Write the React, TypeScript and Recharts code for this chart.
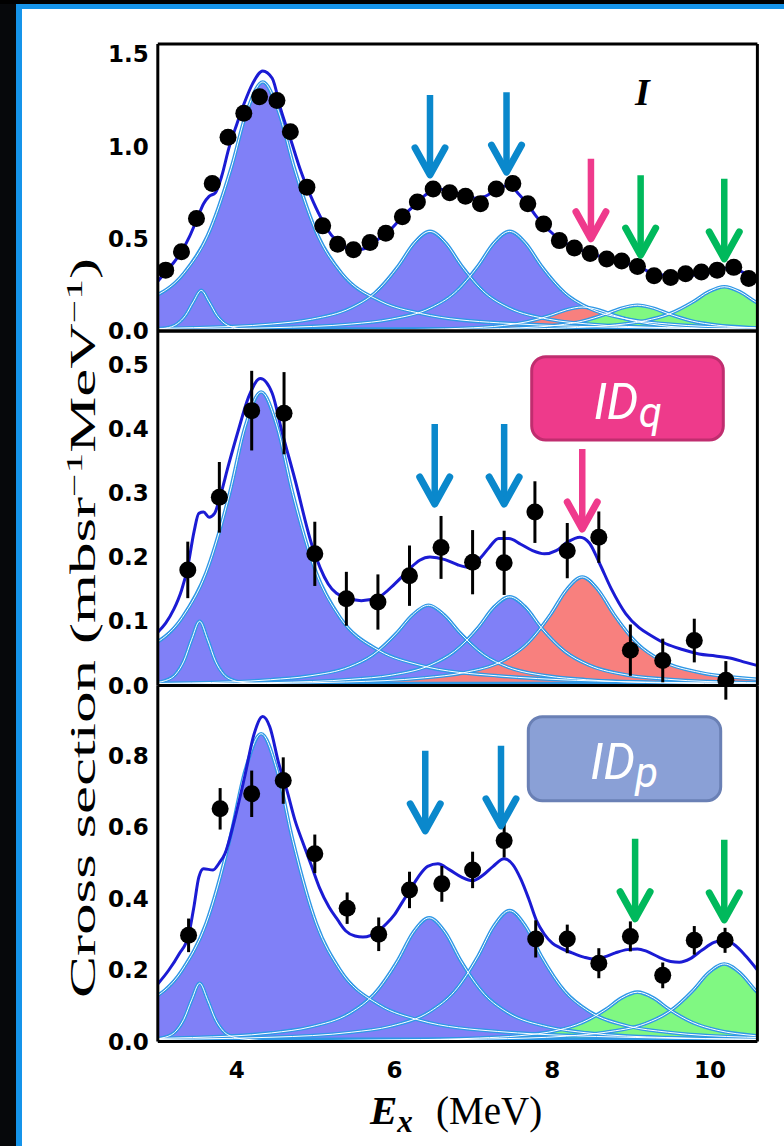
import React from 'react';
import { ComposedChart, Area, Line, Scatter, XAxis, YAxis, ErrorBar } from 'recharts';

const W = 784;
const H = 1146;
const PLOT_L = 157.8;
const PLOT_R = 757.4;

const X_DOMAIN: [number, number] = [3, 10.6];
const X_MAJOR = [4, 6, 8, 10];
const X_MINOR = [3.2, 3.6, 4.4, 4.8, 5.2, 5.6, 6.4, 6.8, 7.2, 7.6, 8.4, 8.8, 9.2, 9.6, 10.4];

// sampling offsets (MeV from each component centroid)
const OFFSETS = [-7, -5, -3, -2, -1.5, -1, -0.7, -0.4, -0.2, 0, 0.2, 0.4, 0.7, 1, 1.5, 2, 3, 5, 7];
const NARROW_OFFSETS = [-1.5, -0.9, -0.6, -0.45, -0.3, -0.2, -0.1, 0, 0.1, 0.2, 0.3, 0.45, 0.6, 0.9, 1.5];

// flat continuum strip along the bottom of each panel
const BG_X = [3, 10.6];

// ---------- panel I ----------
const I_CENTERS = [3.55, 4.33, 6.45, 7.46, 8.38, 9.08, 10.18];
const I_SMALL = [0.001, 0.003, 0.008, 0.015, 0.04, 0.084, 0.158, 0.22, 0.158, 0.084, 0.04, 0.015, 0.008, 0.003, 0.001];
const I_BIG = [0.008, 0.016, 0.044, 0.095, 0.16, 0.313, 0.516, 0.883, 1.192, 1.35, 1.192, 0.883, 0.516, 0.313, 0.16, 0.095, 0.044, 0.016, 0.008];
const I_P6 = [0.003, 0.006, 0.018, 0.038, 0.064, 0.125, 0.206, 0.353, 0.477, 0.54, 0.477, 0.353, 0.206, 0.125, 0.064, 0.038, 0.018, 0.006, 0.003];
const I_P7 = [0.003, 0.006, 0.018, 0.038, 0.064, 0.125, 0.206, 0.353, 0.477, 0.54, 0.477, 0.353, 0.206, 0.125, 0.064, 0.038, 0.018, 0.006, 0.003];
const I_RED = [0.001, 0.002, 0.004, 0.009, 0.015, 0.03, 0.05, 0.085, 0.115, 0.13, 0.115, 0.085, 0.05, 0.03, 0.015, 0.009, 0.004, 0.002, 0.001];
const I_G1 = [0.001, 0.002, 0.005, 0.01, 0.017, 0.032, 0.053, 0.092, 0.124, 0.14, 0.124, 0.092, 0.053, 0.032, 0.017, 0.01, 0.005, 0.002, 0.001];
const I_G2 = [0.001, 0.003, 0.008, 0.017, 0.028, 0.056, 0.092, 0.157, 0.212, 0.24, 0.212, 0.157, 0.092, 0.056, 0.028, 0.017, 0.008, 0.003, 0.001];
const I_BG = [0.02, 0.02];
const I_TOTAL_X = [3.0, 3.1, 3.2, 3.3, 3.4, 3.5, 3.58, 3.65, 3.73, 3.81, 3.9, 4.0, 4.1, 4.2, 4.33, 4.45, 4.56, 4.69, 4.81, 4.94, 5.06, 5.2, 5.35, 5.5, 5.65, 5.8, 5.95, 6.1, 6.25, 6.4, 6.55, 6.7, 6.85, 7.0, 7.15, 7.3, 7.45, 7.58, 7.7, 7.8, 7.9, 8.0, 8.1, 8.2, 8.35, 8.5, 8.7, 8.9, 9.08, 9.3, 9.5, 9.7, 9.9, 10.1, 10.2, 10.35, 10.5, 10.6];
const I_TOTAL_Y = [0.27, 0.32, 0.37, 0.43, 0.51, 0.61, 0.69, 0.73, 0.75, 0.84, 0.99, 1.12, 1.24, 1.34, 1.41, 1.37, 1.2, 1.03, 0.87, 0.73, 0.62, 0.52, 0.46, 0.44, 0.45, 0.5, 0.55, 0.62, 0.68, 0.74, 0.77, 0.76, 0.74, 0.72, 0.73, 0.77, 0.79, 0.74, 0.68, 0.62, 0.57, 0.53, 0.49, 0.47, 0.44, 0.42, 0.39, 0.37, 0.35, 0.31, 0.3, 0.3, 0.31, 0.33, 0.34, 0.33, 0.3, 0.28];
const I_PTS_X = [3.1, 3.3, 3.49, 3.69, 3.89, 4.09, 4.29, 4.51, 4.68, 4.89, 5.09, 5.28, 5.48, 5.69, 5.89, 6.1, 6.29, 6.49, 6.7, 6.9, 7.09, 7.29, 7.5, 7.69, 7.89, 8.09, 8.28, 8.48, 8.69, 8.88, 9.08, 9.29, 9.5, 9.69, 9.89, 10.09, 10.3, 10.49];
const I_PTS_Y = [0.33, 0.43, 0.61, 0.8, 1.05, 1.18, 1.27, 1.25, 1.08, 0.78, 0.57, 0.47, 0.44, 0.48, 0.53, 0.62, 0.7, 0.77, 0.75, 0.73, 0.69, 0.77, 0.8, 0.69, 0.58, 0.49, 0.45, 0.42, 0.39, 0.38, 0.35, 0.3, 0.29, 0.31, 0.32, 0.33, 0.345, 0.285];
const I_ARROW_X = [6.45, 7.42, 8.49, 9.12, 10.18];
const I_ARROW_Y = [0.83, 0.845, 0.484, 0.395, 0.375];
const I_ARROW_C = ['blue', 'blue', 'pink', 'green', 'green'];

// ---------- panel IDq ----------
const Q_CENTERS = [3.53, 4.31, 6.43, 7.46, 8.38];
const Q_SMALL = [0.001, 0.002, 0.004, 0.007, 0.018, 0.038, 0.072, 0.1, 0.072, 0.038, 0.018, 0.007, 0.004, 0.002, 0.001];
const Q_BIG = [0.003, 0.005, 0.015, 0.032, 0.054, 0.106, 0.175, 0.299, 0.404, 0.457, 0.404, 0.299, 0.175, 0.106, 0.054, 0.032, 0.015, 0.005, 0.003];
const Q_P6 = [0.001, 0.0015, 0.004, 0.009, 0.015, 0.029, 0.048, 0.082, 0.11, 0.125, 0.11, 0.082, 0.048, 0.029, 0.015, 0.009, 0.004, 0.0015, 0.001];
const Q_P7 = [0.001, 0.0017, 0.0045, 0.0097, 0.016, 0.032, 0.053, 0.09, 0.122, 0.138, 0.122, 0.09, 0.053, 0.032, 0.016, 0.0097, 0.0045, 0.0017, 0.001];
const Q_RED = [0.001, 0.002, 0.0055, 0.012, 0.02, 0.039, 0.065, 0.111, 0.149, 0.169, 0.149, 0.111, 0.065, 0.039, 0.02, 0.012, 0.0055, 0.002, 0.001];
const Q_BG = [0.006, 0.006];
const Q_TOTAL_X = [3.0, 3.1, 3.2, 3.3, 3.38, 3.46, 3.52, 3.58, 3.65, 3.72, 3.78, 3.9, 4.02, 4.15, 4.3, 4.45, 4.57, 4.74, 4.95, 5.16, 5.37, 5.58, 5.79, 6.0, 6.1, 6.21, 6.32, 6.45, 6.64, 6.8, 6.95, 7.1, 7.2, 7.32, 7.45, 7.6, 7.75, 7.9, 8.05, 8.2, 8.35, 8.47, 8.6, 8.75, 8.93, 9.1, 9.25, 9.44, 9.65, 9.86, 10.07, 10.28, 10.45, 10.6];
const Q_TOTAL_Y = [0.083, 0.097, 0.118, 0.148, 0.185, 0.24, 0.268, 0.27, 0.262, 0.268, 0.29, 0.345, 0.397, 0.449, 0.478, 0.455, 0.397, 0.32, 0.22, 0.158, 0.137, 0.132, 0.137, 0.158, 0.17, 0.184, 0.195, 0.2, 0.196, 0.188, 0.184, 0.2, 0.215, 0.229, 0.229, 0.22, 0.21, 0.205, 0.21, 0.224, 0.231, 0.222, 0.19, 0.15, 0.112, 0.09, 0.078, 0.065, 0.056, 0.049, 0.046, 0.042, 0.036, 0.031];
const Q_PTS_X = [3.38, 3.78, 4.19, 4.6, 4.99, 5.39, 5.79, 6.19, 6.59, 6.99, 7.39, 7.78, 8.19, 8.59, 8.99, 9.4, 9.8, 10.2];
const Q_PTS_Y = [0.18, 0.293, 0.428, 0.424, 0.205, 0.135, 0.13, 0.171, 0.215, 0.192, 0.191, 0.27, 0.21, 0.231, 0.055, 0.039, 0.07, 0.008];
const Q_PTS_E = [0.044, 0.055, 0.062, 0.064, 0.05, 0.042, 0.043, 0.047, 0.049, 0.05, 0.05, 0.048, 0.043, 0.04, 0.04, 0.034, 0.034, 0.03];
const Q_ARROW_X = [6.51, 7.39, 8.38];
const Q_ARROW_Y = [0.278, 0.278, 0.239];
const Q_ARROW_C = ['blue', 'blue', 'pink'];

// ---------- panel IDp ----------
const P_CENTERS = [3.53, 4.31, 6.44, 7.46, 9.08, 10.18];
const P_SMALL = [0.001, 0.002, 0.006, 0.011, 0.029, 0.062, 0.117, 0.163, 0.117, 0.062, 0.029, 0.011, 0.006, 0.002, 0.001];
const P_BIG = [0.005, 0.01, 0.028, 0.06, 0.102, 0.2, 0.329, 0.563, 0.76, 0.861, 0.76, 0.563, 0.329, 0.2, 0.102, 0.06, 0.028, 0.01, 0.005];
const P_P6 = [0.002, 0.004, 0.011, 0.024, 0.041, 0.08, 0.132, 0.226, 0.306, 0.346, 0.306, 0.226, 0.132, 0.08, 0.041, 0.024, 0.011, 0.004, 0.002];
const P_P7 = [0.002, 0.0044, 0.012, 0.026, 0.043, 0.085, 0.14, 0.239, 0.323, 0.366, 0.323, 0.239, 0.14, 0.085, 0.043, 0.026, 0.012, 0.0044, 0.002];
const P_G1 = [0.001, 0.0017, 0.0045, 0.0097, 0.016, 0.032, 0.053, 0.09, 0.122, 0.138, 0.122, 0.09, 0.053, 0.032, 0.016, 0.0097, 0.0045, 0.0017, 0.001];
const P_G2 = [0.0013, 0.0026, 0.007, 0.015, 0.026, 0.05, 0.083, 0.142, 0.192, 0.217, 0.192, 0.142, 0.083, 0.05, 0.026, 0.015, 0.007, 0.0026, 0.0013];
const P_BG = [0.011, 0.011];
const P_TOTAL_X = [3.0, 3.14, 3.27, 3.39, 3.46, 3.52, 3.58, 3.7, 3.78, 3.85, 3.97, 4.1, 4.22, 4.33, 4.42, 4.53, 4.64, 4.74, 4.85, 4.95, 5.05, 5.17, 5.28, 5.38, 5.5, 5.6, 5.7, 5.8, 5.9, 6.0, 6.1, 6.2, 6.3, 6.42, 6.55, 6.7, 6.85, 6.99, 7.12, 7.25, 7.39, 7.5, 7.6, 7.7, 7.8, 7.9, 8.0, 8.1, 8.25, 8.4, 8.51, 8.65, 8.8, 8.95, 9.08, 9.2, 9.35, 9.5, 9.61, 9.75, 9.9, 10.05, 10.18, 10.3, 10.45, 10.6];
const P_TOTAL_Y = [0.161, 0.2, 0.245, 0.297, 0.38, 0.46, 0.483, 0.48, 0.5, 0.525, 0.618, 0.74, 0.86, 0.909, 0.88, 0.78, 0.7, 0.618, 0.55, 0.49, 0.43, 0.376, 0.34, 0.31, 0.295, 0.292, 0.297, 0.31, 0.33, 0.355, 0.39, 0.425, 0.46, 0.49, 0.497, 0.48, 0.46, 0.45, 0.465, 0.49, 0.511, 0.495, 0.455, 0.4, 0.338, 0.3, 0.275, 0.262, 0.248, 0.236, 0.231, 0.236, 0.248, 0.257, 0.259, 0.252, 0.236, 0.224, 0.222, 0.232, 0.256, 0.277, 0.283, 0.272, 0.24, 0.2];
const P_PTS_X = [3.39, 3.79, 4.19, 4.59, 4.99, 5.4, 5.8, 6.19, 6.6, 6.99, 7.39, 7.79, 8.19, 8.59, 8.99, 9.4, 9.8, 10.19];
const P_PTS_Y = [0.297, 0.651, 0.693, 0.73, 0.525, 0.373, 0.3, 0.424, 0.441, 0.48, 0.562, 0.287, 0.287, 0.219, 0.294, 0.185, 0.283, 0.283];
const P_PTS_E = [0.047, 0.058, 0.065, 0.065, 0.054, 0.044, 0.047, 0.051, 0.05, 0.051, 0.047, 0.052, 0.04, 0.042, 0.042, 0.036, 0.04, 0.035];
const P_ARROW_X = [6.39, 7.35, 9.05, 10.18];
const P_ARROW_Y = [0.581, 0.595, 0.335, 0.332];
const P_ARROW_C = ['blue', 'blue', 'green', 'green'];

const PURPLE = '#8080f7';
const SALMON = '#f8807e';
const LIME = '#80f882';
const EDGE = '#2f98e6';
const TOTAL = '#1b1bd4';
const ARROW_COLORS: Record<string, string> = { blue: '#0a88cc', pink: '#ef3a8c', green: '#00b95c' };

const TICK_FONT = { fontFamily: 'DejaVu Sans', fontWeight: 'bold', fontSize: 23, fill: '#000' };

const peak = (center: number, offs: number[], ys: number[], fill: string) => ({
  fill,
  data: ys.map((y, i) => ({ x: +(center + offs[i]).toFixed(3), y })),
});
const series = (xs: number[], ys: number[], es?: number[]) =>
  xs.map((x, i) => (es ? { x, y: ys[i], e: es[i] } : { x, y: ys[i] }));
const arrowSeries = (xs: number[], ys: number[], cs: string[]) => xs.map((x, i) => ({ x, y: ys[i], c: cs[i] }));

const PANELS = [
  {
    top: 44, bottom: 331, yMax: 1.556, yMajor: [0, 0.5, 1, 1.5], yMinor: [0.25, 0.75, 1.25], showX: false,
    peaks: [
      peak(I_CENTERS[0], NARROW_OFFSETS, I_SMALL, PURPLE),
      peak(I_CENTERS[1], OFFSETS, I_BIG, PURPLE),
      peak(I_CENTERS[2], OFFSETS, I_P6, PURPLE),
      peak(I_CENTERS[3], OFFSETS, I_P7, PURPLE),
      peak(I_CENTERS[4], OFFSETS, I_RED, SALMON),
      peak(I_CENTERS[5], OFFSETS, I_G1, LIME),
      peak(I_CENTERS[6], OFFSETS, I_G2, LIME),
    ],
    bg: series(BG_X, I_BG),
    total: series(I_TOTAL_X, I_TOTAL_Y),
    points: series(I_PTS_X, I_PTS_Y),
    errors: false,
    arrows: arrowSeries(I_ARROW_X, I_ARROW_Y, I_ARROW_C),
  },
  {
    top: 331, bottom: 685.5, yMax: 0.552, yMajor: [0, 0.1, 0.2, 0.3, 0.4, 0.5], yMinor: [0.05, 0.15, 0.25, 0.35, 0.45, 0.55], showX: false,
    peaks: [
      peak(Q_CENTERS[0], NARROW_OFFSETS, Q_SMALL, PURPLE),
      peak(Q_CENTERS[1], OFFSETS, Q_BIG, PURPLE),
      peak(Q_CENTERS[2], OFFSETS, Q_P6, PURPLE),
      peak(Q_CENTERS[3], OFFSETS, Q_P7, PURPLE),
      peak(Q_CENTERS[4], OFFSETS, Q_RED, SALMON),
    ],
    bg: series(BG_X, Q_BG),
    total: series(Q_TOTAL_X, Q_TOTAL_Y),
    points: series(Q_PTS_X, Q_PTS_Y, Q_PTS_E),
    errors: true,
    arrows: arrowSeries(Q_ARROW_X, Q_ARROW_Y, Q_ARROW_C),
  },
  {
    top: 685.5, bottom: 1041.5, yMax: 0.996, yMajor: [0, 0.2, 0.4, 0.6, 0.8], yMinor: [0.1, 0.3, 0.5, 0.7, 0.9], showX: true,
    peaks: [
      peak(P_CENTERS[0], NARROW_OFFSETS, P_SMALL, PURPLE),
      peak(P_CENTERS[1], OFFSETS, P_BIG, PURPLE),
      peak(P_CENTERS[2], OFFSETS, P_P6, PURPLE),
      peak(P_CENTERS[3], OFFSETS, P_P7, PURPLE),
      peak(P_CENTERS[4], OFFSETS, P_G1, LIME),
      peak(P_CENTERS[5], OFFSETS, P_G2, LIME),
    ],
    bg: series(BG_X, P_BG),
    total: series(P_TOTAL_X, P_TOTAL_Y),
    points: series(P_PTS_X, P_PTS_Y, P_PTS_E),
    errors: true,
    arrows: arrowSeries(P_ARROW_X, P_ARROW_Y, P_ARROW_C),
  },
];

function ArrowMark(props: any) {
  const { cx, cy, payload } = props;
  if (cx == null || cy == null) return null;
  const c = ARROW_COLORS[payload?.c ?? props.c];
  const tip = cy - 3;
  return (
    <g>
      <line x1={cx} y1={cy - 83} x2={cx} y2={tip - 5} stroke={c} strokeWidth={6.5} />
      <polyline
        points={`${cx - 15},${tip - 27} ${cx},${tip} ${cx + 15},${tip - 27}`}
        fill="none" stroke={c} strokeWidth={7} strokeLinecap="round" strokeLinejoin="round"
      />
    </g>
  );
}

function Panel({ cfg }: { cfg: any }) {
  const axisLine = { stroke: '#000', strokeWidth: 3 };
  const tickLine = { stroke: '#000', strokeWidth: 2.5 };
  const xc = { type: 'number' as const, dataKey: 'x', domain: X_DOMAIN, allowDataOverflow: true, interval: 0 as const, height: 0.01 };
  const yc = { type: 'number' as const, domain: [0, cfg.yMax], allowDataOverflow: true, interval: 0 as const, width: 0.01 };
  return (
    <div style={{ position: 'absolute', left: 0, top: 0 }}>
      <ComposedChart width={W} height={H} margin={{ top: cfg.top, bottom: H - cfg.bottom, left: PLOT_L, right: W - PLOT_R }}>
        {cfg.peaks.map((p: any, i: number) => (
          <Area key={'f' + i} data={p.data} dataKey="y" type="monotone" stroke="none" fill={p.fill} fillOpacity={1}
            isAnimationActive={false} activeDot={false} />
        ))}
        {cfg.peaks.map((p: any, i: number) => (
          <Line key={'o' + i} data={p.data} dataKey="y" type="monotone" stroke={EDGE} strokeWidth={3.6}
            dot={false} activeDot={false} isAnimationActive={false} />
        ))}
        {cfg.peaks.map((p: any, i: number) => (
          <Line key={'w' + i} data={p.data} dataKey="y" type="monotone" stroke="#ffffff" strokeWidth={1}
            dot={false} activeDot={false} isAnimationActive={false} />
        ))}
        <Area data={cfg.bg} dataKey="y" type="linear" stroke="none" fill={EDGE} fillOpacity={1}
          isAnimationActive={false} activeDot={false} />
        <Line data={cfg.total} dataKey="y" type="monotone" stroke={TOTAL} strokeWidth={3}
          dot={false} activeDot={false} isAnimationActive={false} />
        <Scatter data={cfg.points} dataKey="y" isAnimationActive={false}
          shape={(p: any) => <circle cx={p.cx} cy={p.cy} r={8.5} fill="#000" />}>
          {cfg.errors && <ErrorBar dataKey="e" direction="y" width={0} stroke="#000" strokeWidth={3} />}
        </Scatter>
        <Scatter data={cfg.arrows} dataKey="y" isAnimationActive={false} shape={(p: any) => <ArrowMark {...p} />} />

        <XAxis xAxisId={0} {...xc} orientation="bottom" mirror ticks={X_MAJOR} tickSize={12} tick={false} axisLine={axisLine} tickLine={tickLine} />
        <XAxis xAxisId="bmin" {...xc} orientation="bottom" mirror ticks={X_MINOR} tickSize={6} tick={false} axisLine={false} tickLine={tickLine} />
        <XAxis xAxisId="tmaj" {...xc} orientation="top" mirror ticks={X_MAJOR} tickSize={12} tick={false} axisLine={axisLine} tickLine={tickLine} />
        <XAxis xAxisId="tmin" {...xc} orientation="top" mirror ticks={X_MINOR} tickSize={6} tick={false} axisLine={false} tickLine={tickLine} />
        {cfg.showX && (
          <XAxis xAxisId="lab" {...xc} orientation="bottom" ticks={X_MAJOR} tickSize={0} tickMargin={20}
            tickLine={false} axisLine={false} tick={TICK_FONT} />
        )}
        <YAxis yAxisId={0} {...yc} orientation="left" mirror ticks={cfg.yMajor} tickSize={12} tick={false} axisLine={axisLine} tickLine={tickLine} />
        <YAxis yAxisId="lmin" {...yc} orientation="left" mirror ticks={cfg.yMinor} tickSize={6} tick={false} axisLine={false} tickLine={tickLine} />
        <YAxis yAxisId="rmaj" {...yc} orientation="right" mirror ticks={cfg.yMajor} tickSize={12} tick={false} axisLine={axisLine} tickLine={tickLine} />
        <YAxis yAxisId="rmin" {...yc} orientation="right" mirror ticks={cfg.yMinor} tickSize={6} tick={false} axisLine={false} tickLine={tickLine} />
        <YAxis yAxisId="lab" {...yc} orientation="left" ticks={cfg.yMajor} tickSize={0} tickMargin={9}
          tickLine={false} axisLine={false} tick={TICK_FONT} tickFormatter={(v: number) => v.toFixed(1)} />
      </ComposedChart>
    </div>
  );
}

function Tag({ x, y, w, h, fill, stroke, sub }: any) {
  return (
    <g>
      <rect x={x} y={y} width={w} height={h} rx={14} ry={14} fill={fill} stroke={stroke} strokeWidth={3} />
      <text x={x + 62} y={y + 62.6} fill="#fff" fontFamily="Roboto" fontStyle="italic" fontWeight={400} fontSize={50}>
        ID<tspan fontSize={42} dy={8}>{sub}</tspan>
      </text>
    </g>
  );
}

export default function App() {
  return (
    <div style={{ position: 'absolute', left: 0, top: 0, width: W, height: H, background: '#06080b', overflow: 'hidden' }}>
      <div style={{ position: 'absolute', left: 0, top: 0, width: W, height: 4, background: '#000' }} />
      <div style={{
        position: 'absolute', left: 16, top: 4, right: 0, bottom: 0, background: '#fff',
        borderLeft: '6px solid #1594ea', borderTop: '5px solid #1594ea',
      }} />
      {PANELS.map((cfg, i) => <Panel key={i} cfg={cfg} />)}
      <svg width={W} height={H} style={{ position: 'absolute', left: 0, top: 0, pointerEvents: 'none' }}>
        <text transform="translate(95,628) rotate(-90)" textAnchor="middle" fontFamily="Liberation Serif"
          fontSize={35} textLength={740} lengthAdjust="spacingAndGlyphs" fill="#000">
          Cross section (mbsr<tspan dy={-13} fontSize={23}>−1</tspan>
          <tspan dy={13}>MeV</tspan><tspan dy={-13} fontSize={23}>−1</tspan><tspan dy={13}>)</tspan>
        </text>
        <text x={370} y={1124} fontFamily="Liberation Serif" fontStyle="italic" fontWeight="bold" fontSize={41} fill="#000">
          E<tspan fontSize={31} dy={8}>x</tspan>
        </text>
        <text x={436} y={1123.5} fontFamily="Liberation Serif" fontSize={39} fill="#000">(MeV)</text>
        <text x={635} y={105} fontFamily="Liberation Serif" fontStyle="italic" fontWeight="bold" fontSize={38} fill="#000">I</text>
        <Tag x={531.7} y={356.7} w={191.6} h={83.3} fill="#ee3a8b" stroke="#c02d6f" sub="q" />
        <Tag x={528.3} y={716.7} w={192.4} h={84} fill="#8aa0d6" stroke="#6a80b5" sub="p" />
      </svg>
    </div>
  );
}
